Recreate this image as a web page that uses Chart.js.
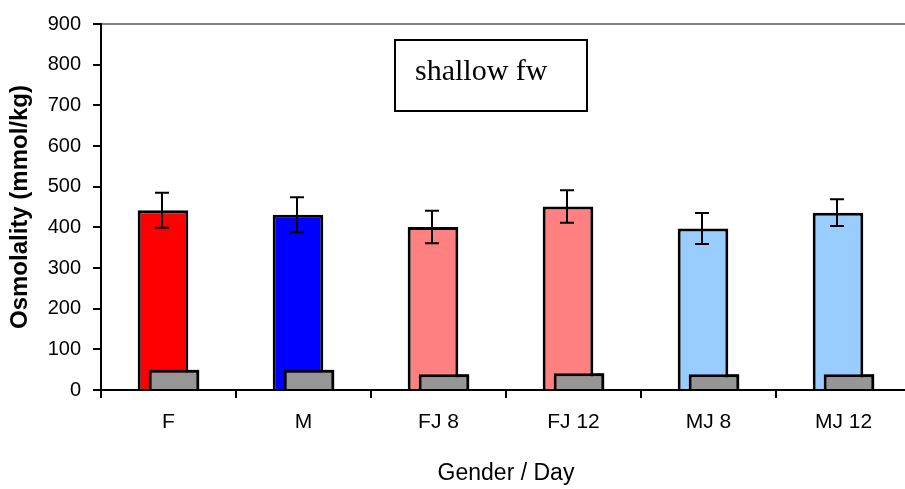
<!DOCTYPE html>
<html>
<head>
<meta charset="utf-8">
<script src="https://cdn.jsdelivr.net/npm/chart.js@4/dist/chart.umd.min.js"></script>
<style>
  html, body { margin: 0; padding: 0; background: #fff; }
  #wrap { width: 905px; height: 489px; overflow: hidden; }
</style>
</head>
<body>
<div id="wrap"><canvas id="chart" width="911" height="489"></canvas></div>
<script>
// data
const categories = ['F', 'M', 'FJ 8', 'FJ 12', 'MJ 8', 'MJ 12'];
const meanValues = [442, 431, 401, 451, 397, 436];
const errValues = [43, 43, 40, 40, 38, 33];
const grayValues = [50, 50, 39, 41, 39, 39];
const barColors = ['#FF0000', '#0000FF', '#FF8080', '#FF8080', '#99CCFF', '#99CCFF'];
const yTicks = [0, 100, 200, 300, 400, 500, 600, 700, 800, 900];

const FONT = 'Liberation Sans, Arial, sans-serif';

// gray bars sit over the coloured ones, so draw them again on top,
// then the error bars
const overlayPlugin = {
  id: 'overlay',
  afterDatasetsDraw(chart) {
    const ctx = chart.ctx;
    chart.getDatasetMeta(1).controller.draw();

    const y = chart.scales.y;
    const bars = chart.getDatasetMeta(0).data;
    ctx.save();
    ctx.strokeStyle = '#000';
    ctx.lineWidth = 2;
    bars.forEach((bar, i) => {
      const x = Math.round(bar.x) - 1;
      const top = y.getPixelForValue(meanValues[i] + errValues[i]);
      const bot = y.getPixelForValue(meanValues[i] - errValues[i]);
      ctx.beginPath();
      ctx.moveTo(x, top); ctx.lineTo(x, bot);
      ctx.moveTo(x - 7, top); ctx.lineTo(x + 7, top);
      ctx.moveTo(x - 7, bot); ctx.lineTo(x + 7, bot);
      ctx.stroke();
    });
    ctx.restore();
  },
  afterDraw(chart) {
    // "shallow fw" label box
    const ctx = chart.ctx;
    ctx.save();
    ctx.strokeStyle = '#000';
    ctx.lineWidth = 2;
    ctx.strokeRect(395, 40, 192, 71);
    ctx.fillStyle = '#000';
    ctx.font = '30px "Liberation Serif", "Times New Roman", serif';
    ctx.textBaseline = 'alphabetic';
    ctx.fillText('shallow fw', 415, 80);
    ctx.restore();
  }
};

new Chart(document.getElementById('chart'), {
  type: 'bar',
  data: {
    labels: categories,
    datasets: [
      {
        data: meanValues,
        backgroundColor: barColors,
        borderColor: '#000',
        borderWidth: 3,
        categoryPercentage: 0.163,
        barPercentage: 4.6
      },
      {
        data: grayValues,
        backgroundColor: '#969696',
        borderColor: '#000',
        borderWidth: 3,
        categoryPercentage: 0.163,
        barPercentage: 4.6
      }
    ]
  },
  options: {
    responsive: false,
    animation: false,
    layout: { padding: { top: 22, left: 0, right: 0, bottom: 0 } },
    plugins: {
      legend: { display: false },
      tooltip: { enabled: false }
    },
    scales: {
      x: {
        offset: true,
        border: { color: '#000', width: 2 },
        grid: { offset: true, drawOnChartArea: false, drawTicks: true, tickLength: 8, tickColor: '#000', lineWidth: 2 },
        ticks: { color: '#000', padding: 12, font: { family: FONT, size: 21 } },
        title: {
          display: true,
          text: 'Gender / Day',
          color: '#000',
          font: { family: FONT, size: 23 },
          padding: { top: 0, bottom: 2 }
        },
        afterFit: (scale) => { scale.height = 99; }
      },
      y: {
        min: 0,
        max: 900,
        afterBuildTicks: (scale) => { scale.ticks = yTicks.map(v => ({ value: v })); },
        border: { color: '#000', width: 2 },
        grid: {
          drawTicks: true,
          tickLength: 8,
          tickColor: '#000',
          lineWidth: 2,
          color: (c) => (c.tick && c.tick.value === 900 ? '#808080' : 'rgba(0,0,0,0)')
        },
        ticks: { color: '#000', padding: 12, font: { family: FONT, size: 20 } },
        title: {
          display: true,
          text: 'Osmolality (mmol/kg)',
          color: '#000',
          font: { family: FONT, size: 24, weight: 'bold' },
          padding: { top: 6, bottom: 0 }
        },
        afterFit: (scale) => { scale.width = 101; }
      }
    }
  },
  plugins: [overlayPlugin]
});
</script>
</body>
</html>
